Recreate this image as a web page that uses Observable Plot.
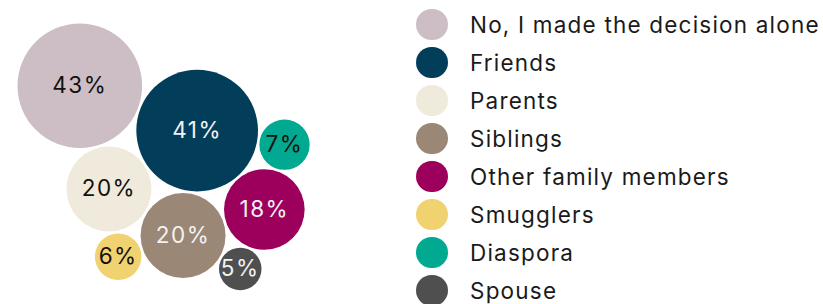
<!DOCTYPE html>
<html><head><meta charset="utf-8">
<script src="https://cdn.jsdelivr.net/npm/d3@7"></script>
<script src="https://cdn.jsdelivr.net/npm/@observablehq/plot@0.6"></script>
<style>
html,body{margin:0;padding:0;background:#fff;}
#wrap{position:relative;width:823px;height:304px;overflow:hidden;font-family:Inter,sans-serif;}
#chart{position:absolute;left:0;top:0;}
#legend{position:absolute;left:416px;top:5.7px;}
.item{display:flex;align-items:center;height:38px;}
.sw{width:31.5px;height:31.5px;border-radius:50%;flex:none;}
.lab{margin-left:22.5px;font-size:22.5px;color:#1a1a1a;white-space:nowrap;letter-spacing:1.2px;}
</style></head><body><div id="wrap"><div id="chart"></div><div id="legend"></div></div>
<script>
// ---- data ----
const categories = ["No, I made the decision alone","Friends","Parents","Siblings","Other family members","Smugglers","Diaspora","Spouse"];
const values = [43, 41, 20, 20, 18, 6, 7, 5];
const valueLabels = ["43%","41%","20%","20%","18%","6%","7%","5%"];
// ---- styles ----
const colors = ["#cdbec6","#023d5a","#efeadb","#9a8776","#9c005c","#f1d271","#00a98f","#4f4f4f"];
const labelTone = ["dark","light","dark","light","light","dark","dark","light"];
// ---- layout (circle packing by tangency) ----
const rMax = 62.3, pad = 2.5, angle = 20.9 * Math.PI / 180;
const margin = {left: 17, top: 23};
// each step: [circle, tangent to A, tangent to B] (placed clockwise of A->B)
const packSteps = [[2,0,1],[3,2,1],[4,3,1],[5,2,3],[6,4,1],[7,3,4]];

const rScale = d3.scaleSqrt().domain([0, 43]).range([0, rMax]);
const R = values.map(v => rScale(v));
const P = values.map(() => [0, 0]);
P[1] = [(R[0]+R[1]+pad)*Math.cos(angle), (R[0]+R[1]+pad)*Math.sin(angle)];
for (const [c, a, b] of packSteps) {
  const dx = P[b][0]-P[a][0], dy = P[b][1]-P[a][1], d = Math.hypot(dx, dy);
  const ux = dx/d, uy = dy/d;
  const da = R[a]+R[c]+pad, db = R[b]+R[c]+pad;
  const t = (d*d + da*da - db*db)/(2*d), h = Math.sqrt(Math.max(0, da*da - t*t));
  P[c] = [P[a][0] + t*ux - h*uy, P[a][1] + t*uy + h*ux];
}
const minX = d3.min(P, (p,i) => p[0]-R[i]), minY = d3.min(P, (p,i) => p[1]-R[i]);
const data = categories.map((c, i) => ({
  category: c, value: values[i], label: valueLabels[i], tone: labelTone[i],
  x: P[i][0] - minX + margin.left, y: P[i][1] - minY + margin.top
}));

const chart = Plot.plot({
  width: 400, height: 304, margin: 0,
  style: {fontFamily: "Inter, sans-serif", background: "transparent", letterSpacing: "1.5px"},
  x: {type: "identity", axis: null},
  y: {type: "identity", axis: null},
  r: {type: "sqrt", domain: [0, 43], range: [0, rMax]},
  color: {domain: categories, range: colors},
  marks: [
    Plot.dot(data, {x: "x", y: "y", r: "value", fill: "category", stroke: null}),
    Plot.text(data.filter(d => d.tone === "dark"), {x: "x", y: "y", text: "label", fill: "#111", fontSize: 22.5}),
    Plot.text(data.filter(d => d.tone === "light"), {x: "x", y: "y", text: "label", fill: "#f2f2f2", fontSize: 22.5})
  ]
});
document.getElementById("chart").appendChild(chart);

const legend = document.getElementById("legend");
categories.forEach((c, i) => {
  const item = document.createElement("div"); item.className = "item";
  const sw = document.createElement("div"); sw.className = "sw"; sw.style.background = colors[i];
  const lab = document.createElement("div"); lab.className = "lab"; lab.textContent = c;
  item.appendChild(sw); item.appendChild(lab); legend.appendChild(item);
});
</script></body></html>
